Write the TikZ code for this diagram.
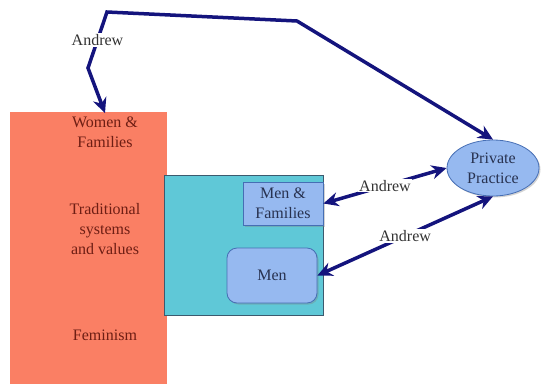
\documentclass[tikz,border=0pt]{standalone}
\usepackage{fontspec}
\setmainfont{Liberation Serif}
\usetikzlibrary{arrows.meta,shapes.geometric,shadows}
\definecolor{ctxred}{RGB}{250,127,100}
\definecolor{ctxtext}{RGB}{110,30,20}
\definecolor{grpcyan}{RGB}{95,200,215}
\definecolor{grpline}{RGB}{60,90,110}
\definecolor{boxblue}{RGB}{150,185,240}
\definecolor{boxline}{RGB}{70,110,180}
\definecolor{boxtext}{RGB}{40,50,80}
\definecolor{linknavy}{RGB}{20,20,125}
\tikzset{
  txt/.style={font=\fontsize{16}{20}\selectfont, align=center},
  link/.style={draw=linknavy, line width=3.5pt, {Stealth[length=15pt,width=14pt]}-{Stealth[length=15pt,width=14pt]}},
  who/.style={txt, fill=white, text=black!80, inner sep=1pt}
}
\begin{document}
\begin{tikzpicture}[x=1pt,y={(0pt,-1pt)}]
            \useasboundingbox (0,0) rectangle (541,384);
            \begin{scope}[every node/.style={anchor=north west, inner sep=0pt}]
                \node[fill=ctxred, minimum width=157, minimum height=272] (ctx) at (10,112) {};
                \node[fill=grpcyan, draw=grpline, thick, minimum width=159, minimum height=140] (grp) at (164,175) {};
            \end{scope}
            \begin{scope}[every node/.style={txt, text=ctxtext}]
                \node (women) at (105,132) {Women \&\\Families};
                \node (trad) at (105,229) {Traditional\\systems\\and values};
                \node (fem) at (105,335) {Feminism};
            \end{scope}
            \begin{scope}[every node/.style={txt, text=boxtext, fill=boxblue, draw=boxline, thick,
                drop shadow={opacity=.35, shadow xshift=1.5pt, shadow yshift=-1.5pt}}]
                \node[minimum width=80, minimum height=43] (mf) at (283,203.5) {Men \&\\Families};
                \node[rounded corners=10pt, minimum width=90, minimum height=55] (men) at (272,275.5) {Men};
                \node[ellipse, inner sep=0pt, minimum width=92, minimum height=56] (pp) at (493,168) {Private\\Practice};
            \end{scope}
            \draw[link] (women.north) -- (88,68) -- node[who, midway]{Andrew} (107,12) -- (297,21) -- (pp.north);
            \draw[link] (mf.east) -- node[who, midway]{Andrew} (pp.west);
            \draw[link] (men.east) -- node[who, midway]{Andrew} (pp.south);
        \end{tikzpicture}
\end{document}
